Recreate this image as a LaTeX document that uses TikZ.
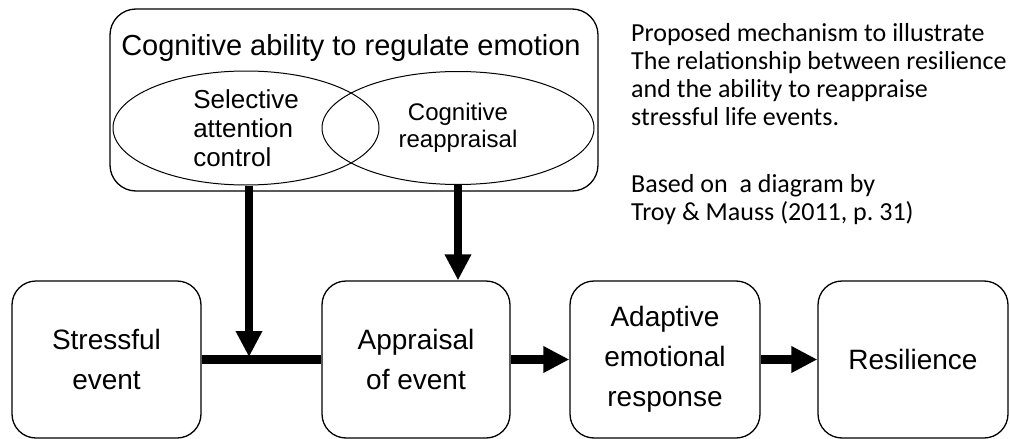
\documentclass[tikz,border=0pt]{standalone}
\usepackage{fontspec}
\setmainfont{Liberation Sans}
\newfontfamily\notefont{Carlito}
\usetikzlibrary{arrows.meta,shapes.geometric}

\tikzset{
  box/.style={draw,rounded corners=24pt,line width=1.3pt,minimum width=189pt,minimum height=157pt,align=center,font=\fontsize{28}{40}\selectfont},
  oval/.style={draw,ellipse,line width=1pt,inner sep=0pt},
  fat/.style={line width=8.5pt},
  fatarrow/.style={fat,-{Triangle[width=25pt,length=26pt]}},
}

\begin{document}
\begin{tikzpicture}[x=1pt,y=-1pt]
\useasboundingbox (0,0) rectangle (1010,439);
\draw (354,100) node[draw,rounded corners=26pt,line width=1.3pt,minimum width=488pt,minimum height=182pt] (CA) {} +(-3,-51.5) node[font=\fontsize{29}{34}\selectfont] (TI) {Cognitive ability to regulate emotion} +(-108,28) node[oval,minimum width=266pt,minimum height=114pt,align=left,font=\fontsize{26}{29}\selectfont] (SA) {Selective\\attention\\control} +(104,28) node[oval,minimum width=272pt,minimum height=113pt,align=center,font=\fontsize{24}{27}\selectfont] (CR) {Cognitive\\reappraisal};

\draw (106.5,359.5) node[box] (SE) {Stressful\\event} +(309.5,0) node[box,minimum width=188pt] (AP) {Appraisal\\of event} +(558.5,0) node[box,minimum width=190pt] (AR) {Adaptive\\emotional\\response} +(806.5,0) node[box,minimum width=190pt] (RE) {Resilience};

\node[anchor=north west,align=left,inner sep=0pt,font=\notefont\fontsize{26}{28}\selectfont] (NOTE) at (631,23.5) {Proposed mechanism to illustrate\\The relationship between resilience\\and the ability to reappraise\\stressful life events.\\[39pt]Based on\ \ a diagram by\\Troy \& Mauss (2011, p.\ 31)};

\coordinate (J1) at (249,357);
\draw[fat] (SE) -- (AP);
\draw[fatarrow] (SA.south -| J1) -- (J1);
\draw[fatarrow] (CR.south) -- (CR.south |- AP.north);
\draw[fatarrow] (AP) -- (AR);
\draw[fatarrow] (AR) -- (RE);

\end{tikzpicture}
\end{document}
